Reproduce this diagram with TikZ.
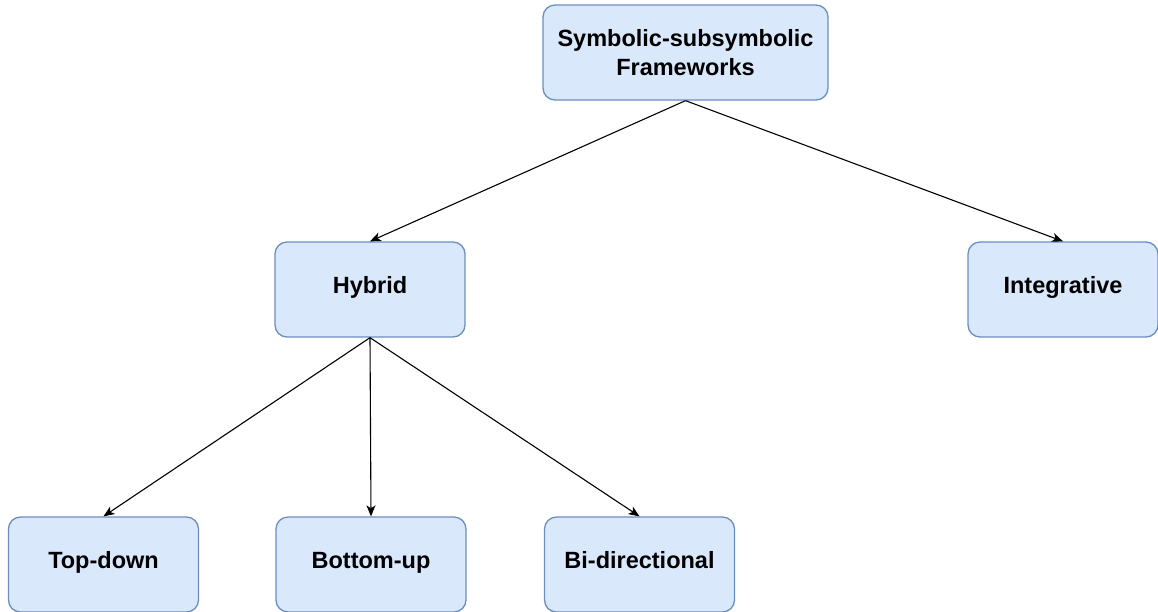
\documentclass[tikz,border=0pt]{standalone}
\usepackage{fontspec}
\setmainfont{Liberation Sans}
\usetikzlibrary{arrows.meta}
\definecolor{boxfill}{HTML}{DAE8FC}
\definecolor{boxline}{HTML}{6C8EBF}
\tikzset{
    box/.style={draw=boxline,fill=boxfill,line width=1.3pt,rounded corners=12pt,
        minimum width=190pt,minimum height=95pt,align=center,
        font=\fontsize{23.5}{29}\selectfont\bfseries},
    leaf/.style={box,text height=0.72em,text depth=0em},
    arr/.style={line width=1.1pt,-{Stealth[length=11pt,width=9pt,inset=3pt]}}
}
\begin{document}
\begin{tikzpicture}[x=1pt,y=-1pt]
        \useasboundingbox (0,0) rectangle (1158,611);

        \node[box,minimum width=285pt] (fw) at (685.5,52.5) {Symbolic-subsymbolic\\Frameworks};
        \node[leaf] (hyb) at (370,289.5) {Hybrid};
        \node[leaf] (integ) at (1063,289.5) {Integrative};
        \node[leaf] (td) at (103.5,564.5) {Top-down};
        \node[leaf] (bu) at (371,564.5) {Bottom-up};
        \node[leaf] (bi) at (639.5,564.5) {Bi-directional};

        \draw[arr] (fw.south) -- (hyb.north);
        \draw[arr] (fw.south) -- (integ.north);
        \draw[arr] (hyb.south) -- (td.north);
        \draw[arr] (hyb.south) -- (bu.north);
        \draw[arr] (hyb.south) -- (bi.north);
    \end{tikzpicture}
\end{document}
